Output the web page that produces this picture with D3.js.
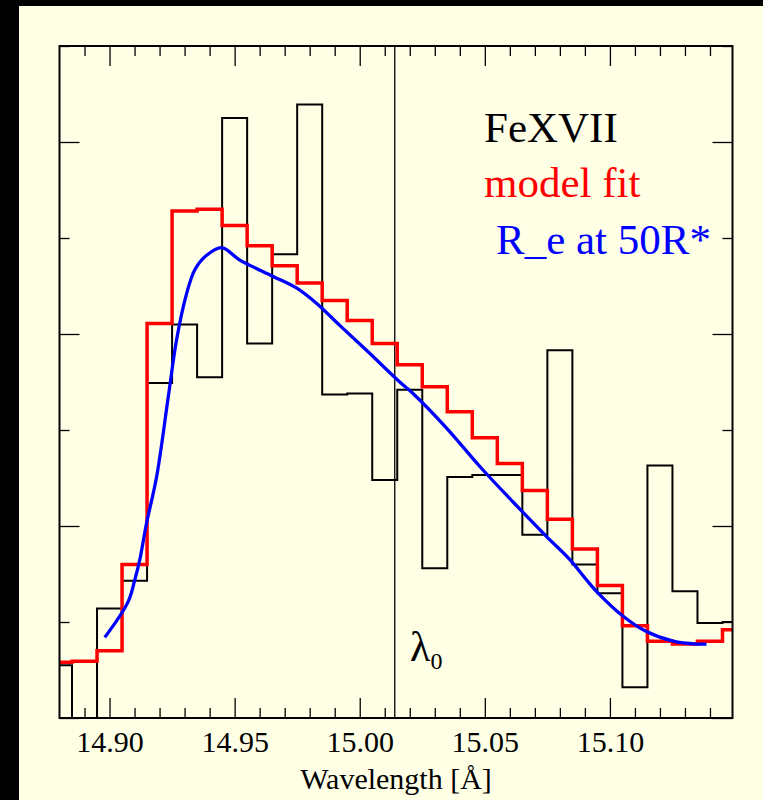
<!DOCTYPE html>
<html>
<head>
<meta charset="utf-8">
<script src="https://cdn.jsdelivr.net/npm/d3@7"></script>
<style>
  body { margin: 0; background: #000; }
  svg { display: block; }
  .tick line { stroke: #000; stroke-width: 1.3; }
  .tick text { font-family: "Liberation Serif", "Times New Roman", serif; font-size: 30px; fill: #000; }
</style>
</head>
<body>
<svg width="763" height="800"></svg>
<script>
// bin centres (Angstrom), bin width 0.01
var bins = [14.88, 14.89, 14.90, 14.91, 14.92, 14.93, 14.94, 14.95, 14.96, 14.97,
            14.98, 14.99, 15.00, 15.01, 15.02, 15.03, 15.04, 15.05, 15.06, 15.07,
            15.08, 15.09, 15.10, 15.11, 15.12, 15.13, 15.14, 15.15];

// observed FeXVII counts (black histogram)
var observed = [0.55, 0.00, 1.14, 1.43, 3.49, 4.10, 3.55, 6.25, 3.90, 4.83,
                6.39, 3.37, 3.38, 2.48, 3.42, 1.56, 2.51, 2.53, 2.53, 1.91,
                3.83, 1.60, 1.30, 0.32, 2.63, 1.32, 0.99, 1.00];

// model fit (red histogram)
var model = [0.58, 0.59, 0.70, 1.60, 4.11, 5.28, 5.30, 5.13, 4.92, 4.71,
             4.53, 4.35, 4.14, 3.90, 3.68, 3.45, 3.19, 2.92, 2.65, 2.37,
             2.07, 1.76, 1.38, 0.96, 0.80, 0.77, 0.80, 0.92];

// R_e at 50R* profile (blue curve)
var curveWave = [14.8981, 14.9074, 14.9101, 14.9121, 14.9148, 14.9188, 14.9234, 14.9268,
                 14.9308, 14.9341, 14.9388, 14.9448, 14.9521, 14.9654, 14.9747, 14.9827,
                 14.9920, 15.0027, 15.0160, 15.0213, 15.0347, 15.0480, 15.0613, 15.0747,
                 15.0840, 15.0906, 15.0946, 15.1053, 15.1146, 15.1253, 15.1346, 15.1386];
var curveVal  = [0.84, 1.21, 1.44, 1.65, 2.03, 2.51, 3.33, 3.94,
                 4.42, 4.67, 4.82, 4.90, 4.77, 4.60, 4.48, 4.32,
                 4.09, 3.83, 3.50, 3.38, 3.02, 2.62, 2.25, 1.89,
                 1.65, 1.44, 1.32, 1.06, 0.90, 0.80, 0.77, 0.77];

var lambda0 = 15.014;
var majorTicks = [14.90, 14.95, 15.00, 15.05, 15.10];
var minorTicks = d3.range(14.89, 15.145, 0.01).map(function(d){ return +d.toFixed(2); })
    .filter(function(d){ return majorTicks.indexOf(d) < 0; });
var yMajor = [0, 2, 4, 6];
var yMinor = [1, 3, 5, 7];

function draw() {
  var svg = d3.select("svg");
  var bg = "#ffffe6";
  var serif = "'Liberation Serif', 'Times New Roman', serif";

  svg.append("rect").attr("x", 19).attr("y", 6).attr("width", 763 - 19).attr("height", 800 - 6).attr("fill", bg);

  var pLeft = 59.5, pRight = 732.5, pTop = 46, pBottom = 718;
  var x = d3.scaleLinear().domain([14.88, 15.149]).range([pLeft, pRight]);
  var y = d3.scaleLinear().domain([0, 7]).range([pBottom, pTop]);

  // step data: left edge of each bin, plus closing point at the right border
  function steps(vals) {
    var pts = bins.map(function(c, i){ return [Math.max(c - 0.005, x.domain()[0]), vals[i]]; });
    pts.push([x.domain()[1], vals[vals.length - 1]]);
    return pts;
  }
  var stepLine = d3.line()
      .x(function(d){ return x(d[0]); })
      .y(function(d){ return y(d[1]); })
      .curve(d3.curveStepAfter);

  // ticks, all pointing inwards
  function xAxis(gen, vals, size, labels) {
    return gen(x).tickValues(vals).tickSize(-size).tickPadding(13)
      .tickFormat(labels ? d3.format(".2f") : "");
  }
  function yAxis(gen, vals, size) {
    return gen(y).tickValues(vals).tickSize(-size).tickFormat("");
  }
  var axes = svg.append("g");
  axes.append("g").attr("transform", "translate(0," + pBottom + ")").call(xAxis(d3.axisBottom, minorTicks, 10, false));
  axes.append("g").attr("transform", "translate(0," + pBottom + ")").call(xAxis(d3.axisBottom, majorTicks, 20, true));
  axes.append("g").attr("transform", "translate(0," + pTop + ")").call(xAxis(d3.axisTop, minorTicks, 10, false));
  axes.append("g").attr("transform", "translate(0," + pTop + ")").call(xAxis(d3.axisTop, majorTicks, 20, false));
  axes.append("g").attr("transform", "translate(" + pLeft + ",0)").call(yAxis(d3.axisLeft, yMinor, 10));
  axes.append("g").attr("transform", "translate(" + pLeft + ",0)").call(yAxis(d3.axisLeft, yMajor, 20));
  axes.append("g").attr("transform", "translate(" + pRight + ",0)").call(yAxis(d3.axisRight, yMinor, 10));
  axes.append("g").attr("transform", "translate(" + pRight + ",0)").call(yAxis(d3.axisRight, yMajor, 20));
  axes.selectAll(".domain").remove();
  axes.selectAll("g").attr("font-family", serif);

  // lambda_0 line
  svg.append("line")
      .attr("x1", x(lambda0)).attr("x2", x(lambda0))
      .attr("y1", pTop).attr("y2", pBottom)
      .attr("stroke", "#000").attr("stroke-width", 1.3);

  svg.append("path")
      .datum(steps(observed))
      .attr("d", stepLine)
      .attr("fill", "none").attr("stroke", "#000").attr("stroke-width", 2);

  svg.append("path")
      .datum(steps(model))
      .attr("d", stepLine)
      .attr("fill", "none").attr("stroke", "#ff0000").attr("stroke-width", 3.5);

  svg.append("path")
      .datum(curveWave.map(function(w, i){ return [w, curveVal[i]]; }))
      .attr("d", d3.line()
        .x(function(d){ return x(d[0]); })
        .y(function(d){ return y(d[1]); })
        .curve(d3.curveCatmullRom.alpha(0.5)))
      .attr("fill", "none").attr("stroke", "#0000ff").attr("stroke-width", 3.3);

  // frame
  svg.append("rect")
      .attr("x", pLeft).attr("y", pTop)
      .attr("width", pRight - pLeft).attr("height", pBottom - pTop)
      .attr("fill", "none").attr("stroke", "#000").attr("stroke-width", 2);

  // labels
  var legend = [
    {text: "FeXVII", color: "#000", x: 484, y: 142},
    {text: "model fit", color: "#ff0000", x: 484, y: 197},
    {text: "R_e at 50R*", color: "#0000ff", x: 496, y: 254}
  ];
  svg.selectAll(".legend").data(legend).enter().append("text")
      .attr("class", "legend")
      .attr("x", function(d){ return d.x; })
      .attr("y", function(d){ return d.y; })
      .attr("fill", function(d){ return d.color; })
      .style("font-family", serif).style("font-size", "43px")
      .text(function(d){ return d.text; });

  var lam = svg.append("text")
      .attr("x", 410).attr("y", 661)
      .style("font-family", serif).style("font-size", "42px").attr("fill", "#000");
  lam.append("tspan").text("λ");
  lam.append("tspan").attr("dy", 8).style("font-size", "24px").text("0");

  svg.append("text")
      .attr("x", (pLeft + pRight) / 2).attr("y", 789)
      .attr("text-anchor", "middle")
      .style("font-family", serif).style("font-size", "30px").attr("fill", "#000")
      .text("Wavelength [Å]");
}
draw();
</script>
</body>
</html>
